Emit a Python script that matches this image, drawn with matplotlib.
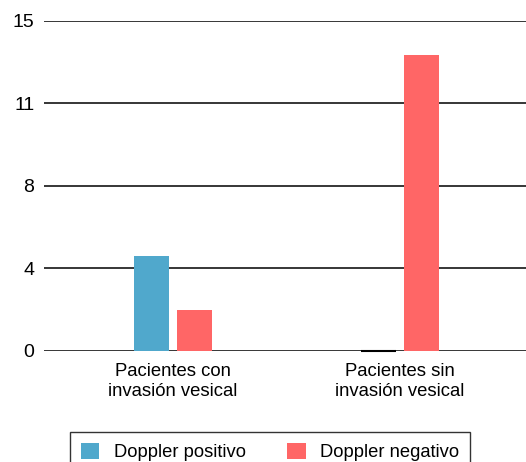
import matplotlib.pyplot as plt

plt.rcParams['font.family'] = ['Liberation Sans', 'DejaVu Sans']

# Data
categories = ['Pacientes con\ninvasión vesical', 'Pacientes sin\ninvasión vesical']
doppler_positivo = [4.3, 0]
doppler_negativo = [1.85, 13.45]
y_ticks = [0, 3.75, 7.5, 11.25, 15]
y_tick_labels = ['0', '4', '8', '11', '15']

fig = plt.figure(figsize=(5.26, 4.62), dpi=100)
ax = fig.add_axes([0.0837, 0.2403, 0.9163, 0.7149])

x = list(range(len(categories)))
w = 0.155
gap = 0.035
pos_x = [i - (w + gap) / 2 for i in x]
neg_x = [i + (w + gap) / 2 for i in x]

edges = ['none' if v > 0 else 'black' for v in doppler_positivo]
ax.bar(pos_x, doppler_positivo, width=w, color='#50A8CC', edgecolor=edges,
       linewidth=1.5, label='Doppler positivo', zorder=3, clip_on=False)
ax.bar(neg_x, doppler_negativo, width=w, color='#FF6666',
       label='Doppler negativo', zorder=3)

ax.set_ylim(0, 15)
ax.set_xlim(-0.568, 1.555)
ax.set_yticks(y_ticks)
ax.set_yticklabels(y_tick_labels, fontsize=14)
ax.set_xticks(x)
ax.set_xticklabels(categories, fontsize=13.3, linespacing=1.2)
ax.tick_params(axis='y', length=0, pad=7)
ax.tick_params(axis='x', length=0, pad=9)
ax.grid(axis='y', color='black', linewidth=1.1, zorder=0)
for s in ax.spines.values():
    s.set_visible(False)

fig.legend(loc='upper left', bbox_to_anchor=(70 / 526, 1 - 432 / 462),
           ncol=2, fontsize=13.2, frameon=True, fancybox=False,
           edgecolor='black', handlelength=1.0, handleheight=1.0,
           handletextpad=0.8, columnspacing=2.25, borderpad=0.6,
           borderaxespad=0)

fig.savefig('out.png', dpi=100)
